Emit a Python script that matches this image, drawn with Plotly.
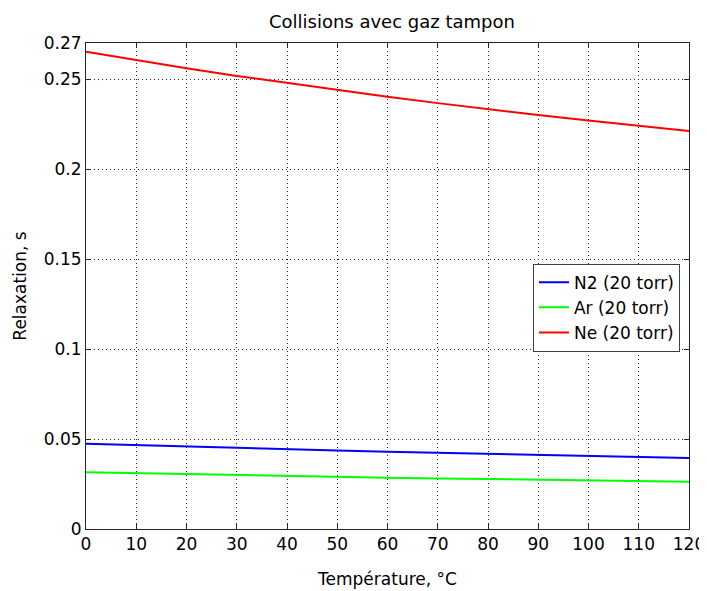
import plotly.graph_objects as go

temperature = [0, 10, 20, 30, 40, 50, 60, 70, 80, 90, 100, 110, 120]
n2_relax = [0.0474, 0.04656, 0.04575, 0.04499, 0.04427, 0.04358, 0.04292, 0.04229, 0.04169, 0.04111, 0.04056, 0.04002, 0.03951]
ar_relax = [0.0315, 0.03094, 0.03041, 0.02990, 0.02942, 0.02896, 0.02852, 0.02810, 0.02770, 0.02732, 0.02695, 0.02660, 0.02626]
ne_relax = [0.2652, 0.2605, 0.2560, 0.2517, 0.2477, 0.2438, 0.2401, 0.2366, 0.2332, 0.2300, 0.2269, 0.2239, 0.2211]

series_names = ["N2 (20 torr)", "Ar (20 torr)", "Ne (20 torr)"]
series_colors = ["#0000ff", "#00ff00", "#ff0000"]

x_ticks = list(range(0, 121, 10))
y_tickvals = [0, 0.05, 0.1, 0.15, 0.2, 0.25, 0.27]
y_ticktext = ["0", "0.05", "0.1", "0.15", "0.2", "0.25", "0.27"]

fig = go.Figure()
for name, ys, col in zip(series_names, [n2_relax, ar_relax, ne_relax], series_colors):
    fig.add_trace(go.Scatter(x=temperature, y=ys, mode="lines", name=name,
                             line=dict(color=col, width=2)))

font_family = "DejaVu Sans, sans-serif"
axis_common = dict(
    showline=True, linecolor="#262626", linewidth=1, mirror="ticks",
    ticks="inside", ticklen=5, tickcolor="#262626",
    showgrid=True, gridcolor="#262626", gridwidth=1, griddash="1px,3px",
    zeroline=False, automargin=False,
    tickfont=dict(size=17, color="black", family=font_family),
)

fig.update_layout(
    width=707, height=591,
    paper_bgcolor="white", plot_bgcolor="white",
    margin=dict(l=78, r=26, t=35, b=70),
    title=dict(text="Collisions avec gaz tampon", x=0.543, xanchor="center",
               y=0.977, yanchor="middle",
               font=dict(size=18, color="black", family=font_family)),
    xaxis=dict(range=[0, 120], tickvals=x_ticks,
               title=dict(text="Température, °C", standoff=19,
                          font=dict(size=17, color="black", family=font_family)),
               **axis_common),
    yaxis=dict(range=[0, 0.27], tickvals=y_tickvals, ticktext=y_ticktext,
               title=dict(text="Relaxation, s", standoff=12,
                          font=dict(size=17, color="black", family=font_family)),
               **axis_common),
    legend=dict(x=0.985, y=0.546, xanchor="right", yanchor="top",
                bgcolor="white", bordercolor="#404040", borderwidth=1,
                entrywidth=158, entrywidthmode="pixels",
                font=dict(size=17, color="black", family=font_family)),
    showlegend=True,
)

fig.write_html("out.html")
